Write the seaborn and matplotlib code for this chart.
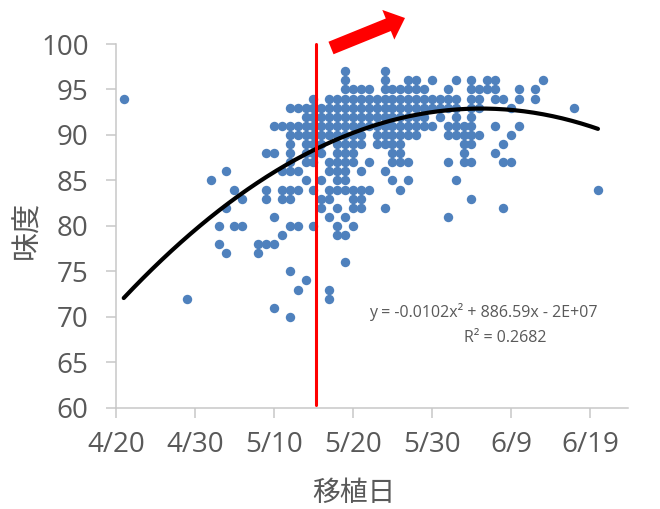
"""Scatter of taste score vs transplanting date, with quadratic trend,
a red marker line at 5/15 and a red arrow above the plot.
"""
import numpy as np
import pandas as pd

import seaborn as sns
import matplotlib.pyplot as plt
from matplotlib.patches import FancyArrow

sns.set_style("ticks")
plt.rcParams["font.family"] = ["Open Sans", "Noto Sans CJK JP", "DejaVu Sans"]


# days after 4/20 for every visible point, grouped by taste score
s97 = [29, 34]
s96 = [29, 34, 37, 38, 40, 43, 45, 47, 48, 54]
s95 = [29, 30, 31, 32, 34, 35, 36, 37, 38, 39, 42, 45, 46, 47, 48, 51, 53]
s94 = [1, 25, 27, 28, 29, 30, 31, 32, 33, 34, 35, 36, 37, 38, 39, 40, 41,
       42, 43, 45, 46, 48, 49, 51, 53]
s93 = [22, 23, 24, 25, 26, 27, 28, 29, 30, 31, 32, 33, 34, 35, 36, 37, 38,
       39, 40, 41, 42, 43, 45, 46, 50, 58]
s92 = [24, 25, 26, 27, 28, 29, 30, 31, 32, 33, 34, 35, 36, 37, 38, 39, 41,
       43, 45]
s91 = [20, 21, 22, 23, 24, 25, 26, 27, 28, 29, 30, 31, 32, 33, 34, 35, 36,
       37, 38, 39, 40, 42, 43, 44, 45, 48, 51]
s90 = [22, 23, 24, 25, 26, 27, 28, 29, 30, 31, 33, 34, 35, 36, 37, 38, 42,
       43, 44, 45, 46, 50]
s89 = [22, 24, 25, 26, 28, 29, 30, 31, 33, 34, 35, 36, 44, 45, 49]
s88 = [19, 20, 22, 24, 25, 26, 28, 29, 30, 35, 36, 44, 48]
s87 = [22, 24, 25, 27, 28, 29, 30, 32, 35, 36, 37, 42, 44, 45, 49, 50]
s86 = [14, 21, 22, 23, 27, 28, 29, 31, 34]
s85 = [12, 24, 26, 28, 29, 35, 37, 43]
s84 = [15, 19, 21, 22, 23, 25, 27, 28, 29, 30, 31, 32, 36, 61]
s83 = [16, 19, 21, 22, 26, 27, 30, 31, 45]
s82 = [14, 26, 28, 30, 31, 34, 49]
s81 = [20, 27, 29, 42]
s80 = [13, 15, 16, 22, 23, 25, 28, 30]
s79 = [21, 28, 29]
s78 = [13, 18, 19, 20]
s77 = [14, 18]
s76 = [29]
s75 = [22]
s74 = [24]
s73 = [23, 27]
s72 = [9, 27]
s71 = [20]
s70 = [22]

score_rows = [
    (97, s97), (96, s96), (95, s95), (94, s94), (93, s93), (92, s92),
    (91, s91), (90, s90), (89, s89), (88, s88), (87, s87), (86, s86),
    (85, s85), (84, s84), (83, s83), (82, s82), (81, s81), (80, s80),
    (79, s79), (78, s78), (77, s77), (76, s76), (75, s75), (74, s74),
    (73, s73), (72, s72), (71, s71), (70, s70),
]

# Excel trendline (per day after 4/20): a from the printed equation,
# vertex (peak ~92.9 near 6/5)
trend_a = -0.0102
trend_b = 0.9425
trend_c = 71.13

x_ticks = [0, 10, 20, 30, 40, 50, 60]
x_ticklabels = ["4/20", "4/30", "5/10", "5/20", "5/30", "6/9", "6/19"]
y_ticks = [60, 65, 70, 75, 80, 85, 90, 95, 100]

marker_day = 25.3  # 5/15 line

eq_text = "y = -0.0102x\u00b2 + 886.59x - 2E+07"
r2_text = "R\u00b2 = 0.2682"

df = pd.DataFrame(
    [(d, s) for s, days in score_rows for d in days],
    columns=["day", "score"],
)

# trendline evaluated over the data range, like Excel does
trend_x = np.linspace(df["day"].min(), df["day"].max(), 200)
trend = pd.DataFrame({
    "day": trend_x,
    "score": np.polyval([trend_a, trend_b, trend_c], trend_x),
})


GRAY = "#595959"
AXIS_GRAY = "#C8C8C8"
BLUE = "#4F81BD"

fig = plt.figure(figsize=(6.6, 5.09), dpi=100)
ax = fig.add_axes([0.1755, 0.199, 0.776, 0.7145])

sns.scatterplot(data=df, x="day", y="score", color=BLUE,
    s=46, linewidth=0, ax=ax, zorder=2)
sns.lineplot(data=trend, x="day", y="score", color="black", lw=3.0,
    ax=ax, zorder=3)

ax.axvline(marker_day, ymin=0.008, ymax=1.0, color="red", lw=2.2,
    zorder=4, clip_on=False)

ax.set_xlim(0, 64.8)
ax.set_ylim(60, 100)
ax.set_xticks(x_ticks)
ax.set_xticklabels(x_ticklabels)
ax.set_yticks(y_ticks)

for side in ["top", "right"]:
    ax.spines[side].set_visible(False)
for side in ["left", "bottom"]:
    ax.spines[side].set_color(AXIS_GRAY)
    ax.spines[side].set_linewidth(1.1)

ax.tick_params(axis="both", direction="out", length=7.5, width=1.1,
    color=AXIS_GRAY, labelcolor=GRAY, labelsize=20)
ax.tick_params(axis="x", pad=9)
ax.tick_params(axis="y", pad=12)

ax.set_xlabel("移植日", fontsize=20, color=GRAY, va="center")
ax.set_ylabel("味度", fontsize=21, color=GRAY, va="center")
ax.xaxis.set_label_coords(0.465, -0.237)
ax.yaxis.set_label_coords(-0.172, 0.49)

ax.text(0.717, 0.263, eq_text, transform=ax.transAxes, ha="center",
    va="center", fontsize=11.5, color=GRAY)
ax.text(0.760, 0.192, r2_text, transform=ax.transAxes, ha="center",
    va="center", fontsize=11.5, color=GRAY)

# block arrow above the plot (inches from figure lower-left)
arrow = FancyArrow(3.31, 4.61, 0.74, 0.30, width=0.135,
    head_width=0.32, head_length=0.18, length_includes_head=True,
    color="red", linewidth=0, transform=fig.dpi_scale_trans)
fig.add_artist(arrow)

plt.savefig("out.png", dpi=100)
plt.close()
